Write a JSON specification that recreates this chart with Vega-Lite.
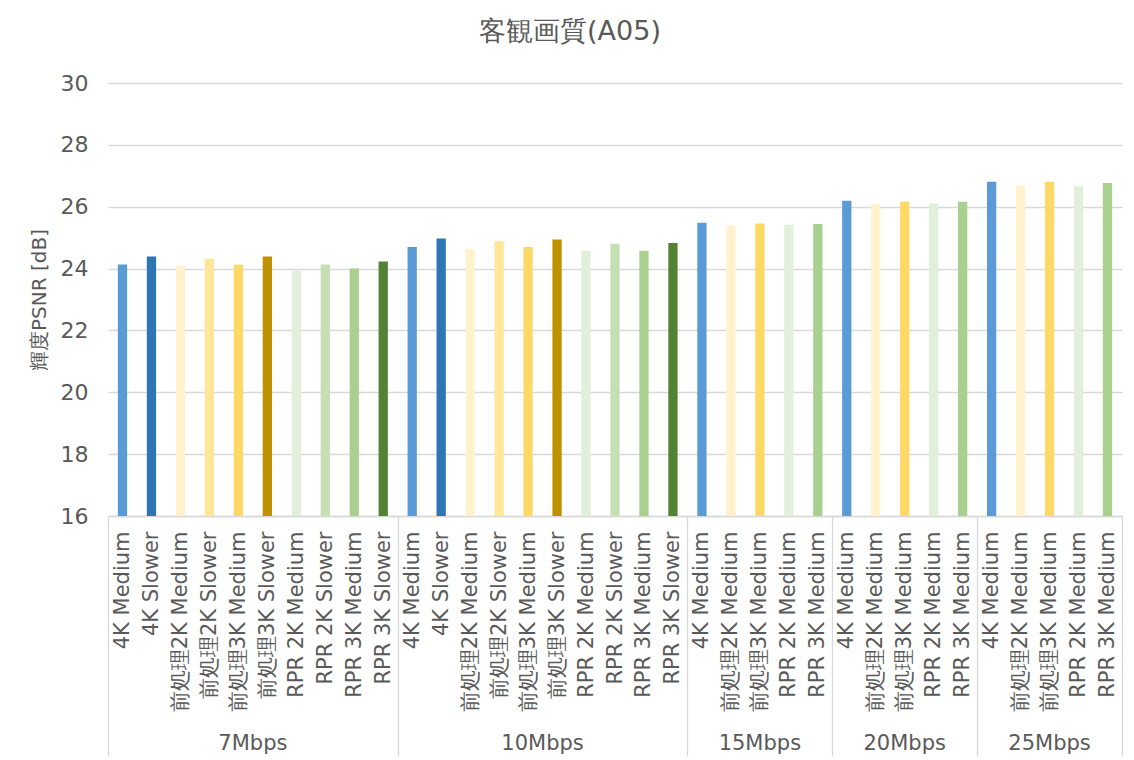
{
  "$schema": "https://vega.github.io/schema/vega-lite/v6.json",
  "autosize": "none",
  "width": 1014,
  "height": 433,
  "padding": {"left": 108, "top": 83, "right": 12, "bottom": 244},
  "background": "white",
  "config": {
    "font": "DejaVu Sans",
    "axis": {"labelFont": "DejaVu Sans", "titleFont": "DejaVu Sans"},
    "view": {"stroke": null}
  },
  "title": {
    "text": "客観画質(A05)",
    "fontSize": 27,
    "fontWeight": "normal",
    "color": "#595959",
    "font": "DejaVu Sans",
    "offset": 26,
    "dx": -45
  },
  "data": {
    "values": [
      {"rate": "7Mbps", "series": "4K Medium", "psnr": 24.13},
      {"rate": "7Mbps", "series": "4K Slower", "psnr": 24.39},
      {"rate": "7Mbps", "series": "前処理2K Medium", "psnr": 24.10},
      {"rate": "7Mbps", "series": "前処理2K Slower", "psnr": 24.32},
      {"rate": "7Mbps", "series": "前処理3K Medium", "psnr": 24.12},
      {"rate": "7Mbps", "series": "前処理3K Slower", "psnr": 24.39},
      {"rate": "7Mbps", "series": "RPR 2K Medium", "psnr": 23.94},
      {"rate": "7Mbps", "series": "RPR 2K Slower", "psnr": 24.13},
      {"rate": "7Mbps", "series": "RPR 3K Medium", "psnr": 24.00},
      {"rate": "7Mbps", "series": "RPR 3K Slower", "psnr": 24.23},
      {"rate": "10Mbps", "series": "4K Medium", "psnr": 24.70},
      {"rate": "10Mbps", "series": "4K Slower", "psnr": 24.97},
      {"rate": "10Mbps", "series": "前処理2K Medium", "psnr": 24.63},
      {"rate": "10Mbps", "series": "前処理2K Slower", "psnr": 24.88},
      {"rate": "10Mbps", "series": "前処理3K Medium", "psnr": 24.70},
      {"rate": "10Mbps", "series": "前処理3K Slower", "psnr": 24.94},
      {"rate": "10Mbps", "series": "RPR 2K Medium", "psnr": 24.58},
      {"rate": "10Mbps", "series": "RPR 2K Slower", "psnr": 24.80},
      {"rate": "10Mbps", "series": "RPR 3K Medium", "psnr": 24.58},
      {"rate": "10Mbps", "series": "RPR 3K Slower", "psnr": 24.83},
      {"rate": "15Mbps", "series": "4K Medium", "psnr": 25.48},
      {"rate": "15Mbps", "series": "前処理2K Medium", "psnr": 25.39},
      {"rate": "15Mbps", "series": "前処理3K Medium", "psnr": 25.46},
      {"rate": "15Mbps", "series": "RPR 2K Medium", "psnr": 25.42},
      {"rate": "15Mbps", "series": "RPR 3K Medium", "psnr": 25.44},
      {"rate": "20Mbps", "series": "4K Medium", "psnr": 26.19},
      {"rate": "20Mbps", "series": "前処理2K Medium", "psnr": 26.08},
      {"rate": "20Mbps", "series": "前処理3K Medium", "psnr": 26.16},
      {"rate": "20Mbps", "series": "RPR 2K Medium", "psnr": 26.10},
      {"rate": "20Mbps", "series": "RPR 3K Medium", "psnr": 26.16},
      {"rate": "25Mbps", "series": "4K Medium", "psnr": 26.81},
      {"rate": "25Mbps", "series": "前処理2K Medium", "psnr": 26.68},
      {"rate": "25Mbps", "series": "前処理3K Medium", "psnr": 26.81},
      {"rate": "25Mbps", "series": "RPR 2K Medium", "psnr": 26.66},
      {"rate": "25Mbps", "series": "RPR 3K Medium", "psnr": 26.77}
    ]
  },
  "transform": [{"calculate": "datum.rate + '|' + datum.series", "as": "key"}],
  "encoding": {
    "x": {
      "field": "key",
      "type": "nominal",
      "sort": null,
      "scale": {"paddingInner": 0, "paddingOuter": 0}
    },
    "y": {
      "field": "psnr",
      "type": "quantitative",
      "scale": {"domain": [16, 30], "nice": false, "zero": false}
    }
  },
  "layer": [
    {
      "mark": {"type": "bar", "width": {"band": 0.32}, "clip": true},
      "encoding": {
        "color": {
          "field": "series",
          "type": "nominal",
          "legend": null,
          "scale": {
            "domain": ["4K Medium", "4K Slower", "前処理2K Medium", "前処理2K Slower", "前処理3K Medium", "前処理3K Slower", "RPR 2K Medium", "RPR 2K Slower", "RPR 3K Medium", "RPR 3K Slower"],
            "range": ["#5B9BD5", "#2E75B6", "#FFF2CC", "#FFE699", "#FFD966", "#BF9000", "#E2EFDA", "#C6E0B4", "#A9D08E", "#548235"]
          }
        },
        "x": {
          "field": "key",
          "type": "nominal",
          "sort": null,
          "axis": {
            "orient": "bottom",
            "title": null,
            "labelExpr": "split(datum.value, '|')[1]",
            "labelAngle": 270,
            "labelFont": "DejaVu Sans",
            "labelFontSize": 21,
            "labelColor": "#595959",
            "labelPadding": -225,
            "labelLimit": 300,
            "domainColor": "#d9d9d9",
            "domainWidth": 1.3,
            "ticks": true,
            "tickBand": "extent",
            "tickSize": 240,
            "tickWidth": 1.3,
            "tickColor": {
              "condition": {
                "test": "!isValid(datum.value) || indexof(['7Mbps|RPR 3K Slower','10Mbps|RPR 3K Slower','15Mbps|RPR 3K Medium','20Mbps|RPR 3K Medium','25Mbps|RPR 3K Medium'], datum.value) >= 0",
                "value": "#d9d9d9"
              },
              "value": "transparent"
            },
            "grid": false
          }
        },
        "y": {
          "field": "psnr",
          "type": "quantitative",
          "axis": {
            "title": "輝度PSNR [dB]",
            "titleFont": "DejaVu Sans",
            "titleFontSize": 20,
            "titleFontWeight": "normal",
            "titleColor": "#595959",
            "titlePadding": 11,
            "values": [16, 16.5, 17, 17.5, 18, 18.5, 19, 19.5, 20, 20.5, 21, 21.5, 22, 22.5, 23, 23.5, 24, 24.5, 25, 25.5, 26, 26.5, 27, 27.5, 28, 28.5, 29, 29.5, 30],
            "labelExpr": "datum.value % 2 == 0 ? datum.label : ''",
            "labelFont": "DejaVu Sans",
            "labelFontSize": 22,
            "labelColor": "#595959",
            "labelPadding": 20,
            "ticks": false,
            "domain": false,
            "grid": true,
            "gridColor": {
              "condition": {"test": "datum.value % 2 == 0", "value": "#d9d9d9"},
              "value": "#f2f2f2"
            },
            "gridWidth": 1.3
          }
        }
      }
    },
    {
      "mark": {"type": "bar", "opacity": 0, "width": {"band": 0.32}},
      "encoding": {
        "x": {
          "field": "key",
          "type": "nominal",
          "sort": null,
          "axis": {
            "orient": "bottom",
            "title": null,
            "values": ["7Mbps|前処理3K Medium", "10Mbps|前処理3K Medium", "15Mbps|前処理3K Medium", "20Mbps|前処理3K Medium", "25Mbps|前処理3K Medium"],
            "labelExpr": "split(datum.value, '|')[0]",
            "labelAngle": 0,
            "labelFont": "DejaVu Sans",
            "labelFontSize": 21,
            "labelColor": "#595959",
            "labelPadding": 216,
            "labelOffset": {
              "condition": {"test": "indexof(datum.value, '7Mbps|') == 0 || indexof(datum.value, '10Mbps|') == 0", "value": 14.5},
              "value": 0
            },
            "ticks": false,
            "domain": false,
            "grid": false
          }
        }
      }
    }
  ],
  "resolve": {"axis": {"x": "independent"}}
}
